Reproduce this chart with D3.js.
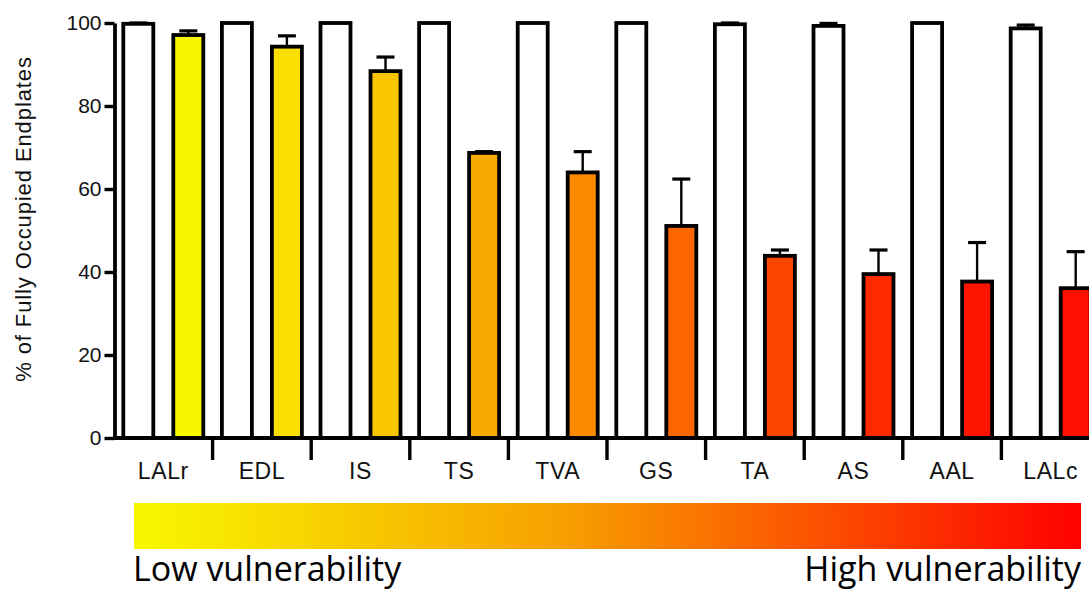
<!DOCTYPE html>
<html>
<head>
<meta charset="utf-8">
<script src="https://cdn.jsdelivr.net/npm/d3@7"></script>
<style>
  html, body { margin: 0; padding: 0; background: #fff; }
  svg { display: block; }
</style>
</head>
<body>
<svg id="viz" width="1089" height="591"></svg>
<script>
// muscles, ordered from low to high vulnerability
var muscles = ['LALr', 'EDL', 'IS', 'TS', 'TVA', 'GS', 'TA', 'AS', 'AAL', 'LALc']

// control (white) bars
var ctrlValues = [99.8, 100, 100, 100, 100, 100, 99.7, 99.3, 100, 98.7]
var ctrlErrors = [0.2, 0, 0, 0, 0, 0, 0.3, 0.6, 0, 0.8]

// treated (coloured) bars
var expValues = [97.1, 94.3, 88.4, 68.7, 64.0, 51.1, 43.9, 39.5, 37.7, 36.1]
var expErrors = [1.0, 2.6, 3.4, 0.3, 5.0, 11.3, 1.4, 5.8, 9.4, 8.8]
var expColors = ['#f7f700', '#f9e000', '#f9c500', '#f9aa00', '#fb8a00',
                 '#fb6600', '#fb4600', '#ff2a00', '#ff1400', '#ff1000']

var yTicks = [0, 20, 40, 60, 80, 100]

var svg = d3.select('svg#viz')

var y = d3.scaleLinear().domain([0, 100]).range([438, 23])

var x0 = d3.scaleBand()
    .domain(muscles)
    .range([114, 114 + 98.6 * muscles.length])
    .padding(0)

var x1 = d3.scaleBand()
    .domain(['ctrl', 'exp'])
    .range([0, x0.bandwidth()])
    .paddingInner(0.4)
    .paddingOuter(0.186)

var rows = muscles.map((m, i) => ({
  name: m,
  bars: [
    {key: 'ctrl', value: ctrlValues[i], err: ctrlErrors[i], fill: '#fff'},
    {key: 'exp', value: expValues[i], err: expErrors[i], fill: expColors[i]}
  ]
}))

var groups = svg.append('g')
  .selectAll('g')
  .data(rows)
  .join('g')
    .attr('transform', d => `translate(${x0(d.name)},0)`)

// error bars (upward only), drawn before the bars
groups.selectAll('g.err')
  .data(d => d.bars.filter(b => b.err > 0))
  .join('g')
    .attr('class', 'err')
    .each(function(b) {
      var cx = x1(b.key) + x1.bandwidth() / 2
      var g = d3.select(this)
      g.append('line')
        .attr('x1', cx).attr('x2', cx)
        .attr('y1', y(b.value)).attr('y2', y(b.value + b.err))
        .attr('stroke', '#000').attr('stroke-width', 2.4)
      g.append('line')
        .attr('x1', cx - 9).attr('x2', cx + 9)
        .attr('y1', y(b.value + b.err)).attr('y2', y(b.value + b.err))
        .attr('stroke', '#000').attr('stroke-width', 3.2)
    })

groups.selectAll('rect')
  .data(d => d.bars)
  .join('rect')
    .attr('x', b => x1(b.key))
    .attr('width', x1.bandwidth())
    .attr('y', b => y(b.value))
    .attr('height', b => y(0) - y(b.value))
    .attr('fill', b => b.fill)
    .attr('stroke', '#000')
    .attr('stroke-width', 3.8)

// y axis
var yAxis = svg.append('g')
    .attr('transform', 'translate(114.5,0)')
    .call(d3.axisLeft(y).tickValues(yTicks).tickSize(10).tickSizeOuter(0).tickPadding(3))
yAxis.select('.domain').attr('stroke-width', 3.8)
yAxis.selectAll('.tick line').attr('stroke-width', 3.4)
yAxis.selectAll('.tick text')
    .attr('font-family', 'Liberation Sans, Arial, sans-serif')
    .attr('font-size', 21)
    .attr('fill', '#111')

// x axis: baseline, ticks between groups, labels at group centres
svg.append('line')
    .attr('x1', 113).attr('x2', x0.range()[1])
    .attr('y1', y(0)).attr('y2', y(0))
    .attr('stroke', '#000').attr('stroke-width', 3.8)

svg.append('g')
  .selectAll('line')
  .data(muscles.slice(1))
  .join('line')
    .attr('x1', d => x0(d)).attr('x2', d => x0(d))
    .attr('y1', y(0)).attr('y2', y(0) + 22)
    .attr('stroke', '#000').attr('stroke-width', 3.4)

svg.append('g')
  .selectAll('text')
  .data(muscles)
  .join('text')
    .attr('x', d => x0(d) + x0.bandwidth() / 2)
    .attr('y', 479)
    .attr('text-anchor', 'middle')
    .attr('font-family', 'Liberation Sans, Arial, sans-serif')
    .attr('font-size', 23)
    .attr('letter-spacing', 0.6)
    .attr('fill', '#111')
    .text(d => d)

// y axis title
svg.append('text')
    .attr('transform', 'translate(31,219) rotate(-90)')
    .attr('text-anchor', 'middle')
    .attr('font-family', 'Liberation Sans, Arial, sans-serif')
    .attr('font-size', 22)
    .attr('letter-spacing', 0.9)
    .attr('fill', '#111')
    .text('% of Fully Occupied Endplates')

// vulnerability gradient
var defs = svg.append('defs')
var grad = defs.append('linearGradient').attr('id', 'vuln')
    .attr('x1', '0%').attr('x2', '100%').attr('y1', '0%').attr('y2', '0%')
grad.selectAll('stop')
  .data([
    {o: '0%', c: '#f8f800'},
    {o: '45%', c: '#f7a000'},
    {o: '100%', c: '#ff0000'}
  ])
  .join('stop')
    .attr('offset', d => d.o)
    .attr('stop-color', d => d.c)

svg.append('rect')
    .attr('x', 134).attr('y', 503)
    .attr('width', 947).attr('height', 46)
    .attr('fill', 'url(#vuln)')

svg.append('text')
    .attr('x', 133).attr('y', 581)
    .attr('font-family', 'Open Sans, sans-serif')
    .attr('font-size', 34)
    .attr('fill', '#000')
    .text('Low vulnerability')

svg.append('text')
    .attr('x', 1081).attr('y', 581)
    .attr('text-anchor', 'end')
    .attr('font-family', 'Open Sans, sans-serif')
    .attr('font-size', 34)
    .attr('fill', '#000')
    .text('High vulnerability')
</script>
</body>
</html>
